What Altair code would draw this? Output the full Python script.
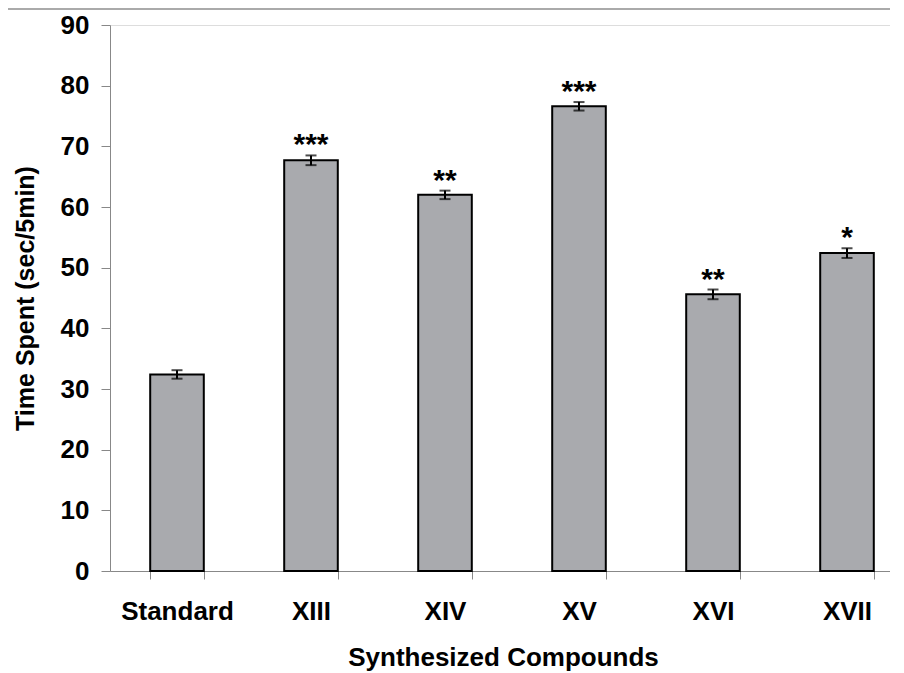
import altair as alt
import pandas as pd

compounds = ["Standard", "XIII", "XIV", "XV", "XVI", "XVII"]
time_spent = [32.4, 67.7, 62.0, 76.6, 45.6, 52.4]
errors = [0.7, 0.8, 0.7, 0.7, 0.8, 0.8]
stars = ["", "***", "**", "***", "**", "*"]

df = pd.DataFrame({
    "compound": compounds,
    "value": time_spent,
    "err": errors,
    "stars": stars,
})
df["lo"] = df["value"] - df["err"]
df["hi"] = df["value"] + df["err"]

FONT = "Liberation Sans"

x = alt.X(
    "compound:N",
    sort=compounds,
    scale=alt.Scale(range=[0, 804], paddingInner=0.6, paddingOuter=0.3),
    axis=alt.Axis(
        title="Synthesized Compounds",
        labelAngle=0,
        tickBand="extent",
        tickSize=8,
        tickColor="#888888",
        domainColor="#888888",
        labelFontSize=26,
        labelFont=FONT,
        labelFontWeight="bold",
        labelColor="black",
        labelPadding=19,
        titleFontSize=26,
        titleFont=FONT,
        titleFontWeight="bold",
        titleColor="black",
        titlePadding=20,
        titleX=393,
    ),
)

y_scale = alt.Scale(domain=[0, 90], nice=False)

bars = alt.Chart(df).mark_bar(
    fill="#a9aaae", stroke="black", strokeWidth=2
).encode(
    x=x,
    y=alt.Y(
        "value:Q",
        scale=y_scale,
        axis=alt.Axis(
            title="Time Spent (sec/5min)",
            values=list(range(0, 91, 10)),
            grid=False,
            tickSize=9,
            tickColor="#888888",
            domainColor="#888888",
            labelFontSize=26,
            labelFont=FONT,
            labelFontWeight="bold",
            labelColor="black",
            labelPadding=12,
            titleFontSize=25,
            titleFont=FONT,
            titleFontWeight="bold",
            titleColor="black",
            titlePadding=22,
        ),
    ),
)

err_line = alt.Chart(df).mark_rule(color="black", strokeWidth=2).encode(
    x=alt.X("compound:N", sort=compounds),
    y=alt.Y("lo:Q", scale=y_scale),
    y2="hi:Q",
)

caps_lo = alt.Chart(df).mark_tick(color="black", size=11, thickness=2).encode(
    x=alt.X("compound:N", sort=compounds),
    y=alt.Y("lo:Q", scale=y_scale),
)
caps_hi = alt.Chart(df).mark_tick(color="black", size=11, thickness=2).encode(
    x=alt.X("compound:N", sort=compounds),
    y=alt.Y("hi:Q", scale=y_scale),
)

star_text = alt.Chart(df).mark_text(
    font=FONT, fontSize=30, fontWeight="bold", color="black",
    baseline="alphabetic", dy=-1,
).encode(
    x=alt.X("compound:N", sort=compounds),
    y=alt.Y("hi:Q", scale=y_scale),
    text="stars:N",
)

top_line = alt.Chart(df).mark_rule(color="#aaaaaa", strokeWidth=2).encode(
    x=alt.value(-110), x2=alt.value(800), y=alt.value(-16)
)

chart = alt.layer(bars, err_line, caps_lo, caps_hi, star_text, top_line).properties(
    width=780,
    height=546,
    autosize=alt.AutoSizeParams(type="none"),
    padding={"left": 102, "top": 17, "right": 0, "bottom": 100},
).configure_view(stroke=None).configure(background="white")

chart.save("out.html", embed_options={"renderer": "svg", "actions": False})
